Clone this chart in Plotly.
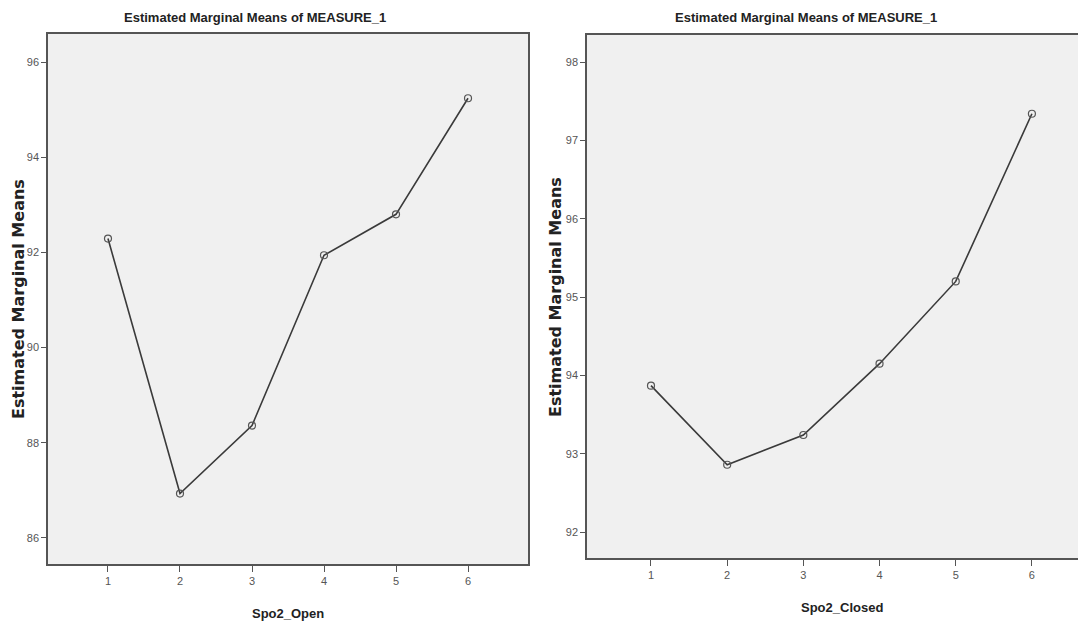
import plotly.graph_objects as go

levels = [1, 2, 3, 4, 5, 6]
open_means = [92.29, 86.93, 88.36, 91.94, 92.80, 95.24]
closed_means = [93.87, 92.86, 93.24, 94.15, 95.20, 97.34]
left_yticks = [86, 88, 90, 92, 94, 96]
right_yticks = [92, 93, 94, 95, 96, 97, 98]

# page body has an 8px margin, so the figure is drawn at (8, 8)
OFF = 8
W, H = 1086 - OFF, 625 - OFF
NARROW = "Liberation Sans Narrow, Arial Narrow, Liberation Sans, sans-serif"

line_style = dict(color="#3a3a3a", width=1.6)
marker_style = dict(symbol="circle-open", size=7, color="#555555", line=dict(width=1.2, color="#555555"))

fig = go.Figure()
fig.add_trace(go.Scatter(x=levels, y=open_means, mode="lines+markers",
                         line=line_style, marker=marker_style,
                         xaxis="x", yaxis="y", showlegend=False))
fig.add_trace(go.Scatter(x=levels, y=closed_means, mode="lines+markers",
                         line=line_style, marker=marker_style,
                         xaxis="x2", yaxis="y2", showlegend=False))

axis_common = dict(showgrid=False, zeroline=False, showline=True, linecolor="#555555",
                   linewidth=1.5, ticks="outside", tickcolor="#555555", tickwidth=1.3,
                   tickfont=dict(family=NARROW, size=11, color="#555555"))

def px_x(p):
    return (p - OFF) / W

def px_y(p):
    return 1 - (p - OFF) / H

fig.update_layout(
    width=W, height=H,
    margin=dict(l=0, r=0, t=0, b=0),
    paper_bgcolor="white",
    plot_bgcolor="#f0f0f0",
    xaxis=dict(domain=[px_x(48), px_x(528)], range=[0.167, 6.833], tickvals=levels,
               anchor="y", mirror=True, ticklen=6, **axis_common),
    yaxis=dict(domain=[px_y(564), px_y(34)], range=[85.45, 96.59], tickvals=left_yticks,
               anchor="x", mirror=True, ticklen=5, **axis_common),
    xaxis2=dict(domain=[px_x(587), 1.0], range=[0.16, 6.71], tickvals=levels,
                anchor="y2", mirror=True, ticklen=6, **axis_common),
    yaxis2=dict(domain=[px_y(558), px_y(35)], range=[91.67, 98.345], tickvals=right_yticks,
                anchor="x2", mirror=False, ticklen=5, **axis_common),
)

ann_title = dict(family=NARROW, size=13, color="#222222")
ann_axis = dict(family="DejaVu Sans, sans-serif", size=16, color="#222222")
ann_x = dict(family=NARROW, size=13, color="#222222")

annotations = [
    dict(text="<b>Estimated Marginal Means of MEASURE_1</b>", x=px_x(255), y=px_y(17),
         xref="paper", yref="paper", showarrow=False, font=ann_title, xanchor="center", yanchor="middle"),
    dict(text="<b>Estimated Marginal Means of MEASURE_1</b>", x=px_x(806), y=px_y(17),
         xref="paper", yref="paper", showarrow=False, font=ann_title, xanchor="center", yanchor="middle"),
    dict(text="<b>Estimated Marginal Means</b>", x=px_x(18), y=px_y(299), textangle=-90,
         xref="paper", yref="paper", showarrow=False, font=ann_axis, xanchor="center", yanchor="middle"),
    dict(text="<b>Estimated Marginal Means</b>", x=px_x(555), y=px_y(297), textangle=-90,
         xref="paper", yref="paper", showarrow=False, font=ann_axis, xanchor="center", yanchor="middle"),
    dict(text="<b>Spo2_Open</b>", x=px_x(288), y=px_y(613),
         xref="paper", yref="paper", showarrow=False, font=ann_x,
         xanchor="center", yanchor="middle"),
    dict(text="<b>Spo2_Closed</b>", x=px_x(842), y=px_y(607),
         xref="paper", yref="paper", showarrow=False, font=ann_x,
         xanchor="center", yanchor="middle"),
]
fig.update_layout(annotations=annotations)

fig.write_html("out.html")
